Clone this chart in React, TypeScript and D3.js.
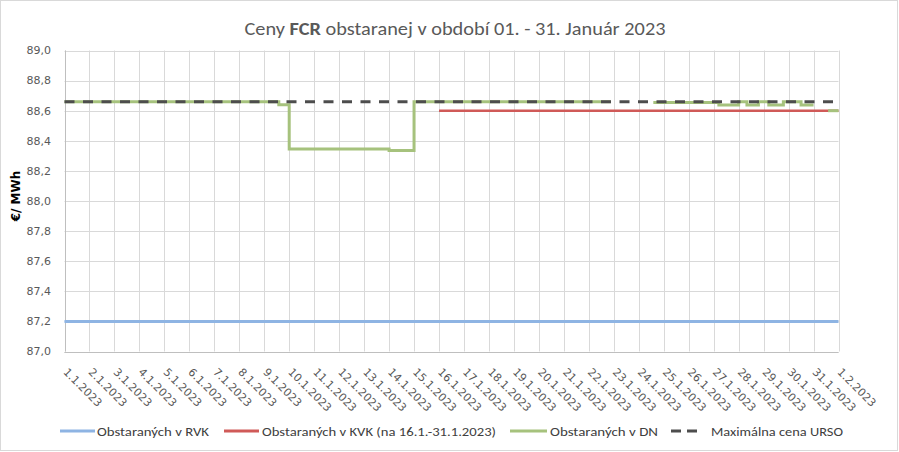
import React, { useEffect, useRef } from "react";
import * as d3 from "d3";

// ---- data ----
const yTicks = [87.0, 87.2, 87.4, 87.6, 87.8, 88.0, 88.2, 88.4, 88.6, 88.8, 89.0];
const xTickDates = [
  "2023-01-01","2023-01-02","2023-01-03","2023-01-04","2023-01-05","2023-01-06","2023-01-07","2023-01-08",
  "2023-01-09","2023-01-10","2023-01-11","2023-01-12","2023-01-13","2023-01-14","2023-01-15","2023-01-16",
  "2023-01-17","2023-01-18","2023-01-19","2023-01-20","2023-01-21","2023-01-22","2023-01-23","2023-01-24",
  "2023-01-25","2023-01-26","2023-01-27","2023-01-28","2023-01-29","2023-01-30","2023-01-31","2023-02-01",
];
// step series: [start time, value]; value null = no data
const rvkSteps: [string, number | null][] = [
  ["2023-01-01T00:00", 87.2],
  ["2023-02-01T00:00", 87.2],
];
const kvkSteps: [string, number | null][] = [
  ["2023-01-16T00:00", 88.6],
  ["2023-02-01T00:00", 88.6],
];
const dnSteps: [string, number | null][] = [
  ["2023-01-01T00:00", 88.66],
  ["2023-01-09T14:00", 88.64],
  ["2023-01-10T00:00", 88.345],
  ["2023-01-14T00:00", 88.335],
  ["2023-01-15T00:00", 88.66],
  ["2023-01-22T21:00", null],
  ["2023-01-24T14:00", 88.654],
  ["2023-01-27T05:00", 88.638],
  ["2023-01-28T00:00", 88.66],
  ["2023-01-28T08:00", 88.638],
  ["2023-01-28T19:00", 88.66],
  ["2023-01-29T05:00", 88.638],
  ["2023-01-29T19:00", 88.66],
  ["2023-01-30T12:00", 88.638],
  ["2023-01-31T00:00", null],
  ["2023-01-31T14:00", 88.6],
  ["2023-02-01T00:00", 88.6],
];
const ursoSteps: [string, number | null][] = [
  ["2023-01-01T00:00", 88.66],
  ["2023-02-01T00:00", 88.66],
];
const legendLabels = [
  "Obstaraných v RVK",
  "Obstaraných v KVK (na 16.1.-31.1.2023)",
  "Obstaraných v DN",
  "Maximálna cena URSO",
];

const W = 899;
const H = 452;
const narrow = "Carlito, 'Liberation Sans Narrow', 'Liberation Sans', Arial, sans-serif";

export default function App() {
  const ref = useRef<SVGSVGElement>(null);

  useEffect(() => {
    document.body.style.margin = "0";
    const svg = d3.select(ref.current);
    svg.selectAll("*").remove();

    const parse = d3.timeParse("%Y-%m-%dT%H:%M");
    const parseD = d3.timeParse("%Y-%m-%d");
    const dates = xTickDates.map((d) => parseD(d) as Date);

    const x = d3.scaleTime().domain([dates[0], dates[dates.length - 1]]).range([64.5, 838.5]);
    const y = d3.scaleLinear().domain([87, 89]).range([351.5, 50.5]);

    svg.append("rect").attr("x", 0.5).attr("y", 0.5).attr("width", 897).attr("height", 450)
      .attr("fill", "#fff").attr("stroke", "#D9D9D9");

    // grid
    const g = svg.append("g");
    g.selectAll("line.h").data(yTicks).join("line")
      .attr("x1", x.range()[0]).attr("x2", x.range()[1])
      .attr("y1", (d) => Math.round(y(d)) + 0.5).attr("y2", (d) => Math.round(y(d)) + 0.5)
      .attr("stroke", "#D9D9D9").attr("stroke-width", 1);
    g.selectAll("line.v").data(dates).join("line")
      .attr("x1", (d) => Math.round(x(d)) + 0.5).attr("x2", (d) => Math.round(x(d)) + 0.5)
      .attr("y1", y.range()[1]).attr("y2", y.range()[0])
      .attr("stroke", "#D9D9D9").attr("stroke-width", 1);
    // axes lines
    g.append("line").attr("x1", Math.round(x.range()[0]) + 0.5).attr("x2", Math.round(x.range()[0]) + 0.5)
      .attr("y1", y.range()[1]).attr("y2", y.range()[0]).attr("stroke", "#BFBFBF");
    g.append("line").attr("x1", x.range()[0]).attr("x2", x.range()[1])
      .attr("y1", Math.round(y(87)) + 0.5).attr("y2", Math.round(y(87)) + 0.5).attr("stroke", "#BFBFBF");

    // y labels
    const fmt = (v: number) => v.toFixed(1).replace(".", ",");
    svg.append("g").selectAll("text").data(yTicks).join("text")
      .attr("x", 51).attr("y", (d) => y(d)).attr("dy", "0.35em")
      .attr("text-anchor", "end").attr("font-family", "'DejaVu Sans', sans-serif")
      .attr("font-size", 11).attr("fill", "#595959").text(fmt);

    // x labels
    const xf = d3.timeFormat("%-d.%-m.%Y");
    svg.append("g").selectAll("text").data(dates).join("text")
      .attr("transform", (d) => `translate(${x(d) + 1},370) rotate(45)`)
      .attr("dy", "0.35em").attr("text-anchor", "start")
      .attr("font-family", "'DejaVu Sans', sans-serif").attr("font-size", 11)
      .attr("fill", "#595959").text((d) => xf(d));

    // y title
    svg.append("text").attr("transform", `translate(20,196) rotate(-90)`)
      .attr("text-anchor", "middle").attr("font-family", "'DejaVu Sans', sans-serif")
      .attr("font-weight", "bold").attr("font-size", 12).attr("fill", "#000").text("€/ MWh");

    // title
    const t = svg.append("text").attr("x", 455).attr("y", 35).attr("text-anchor", "middle")
      .attr("font-family", narrow).attr("font-size", 18).attr("fill", "#595959")
      .attr("textLength", 421).attr("lengthAdjust", "spacingAndGlyphs");
    t.append("tspan").text("Ceny ");
    t.append("tspan").attr("font-weight", "bold").text("FCR");
    t.append("tspan").text(" obstaranej v období 01. - 31. Január 2023");

    const line = d3.line<[Date, number | null]>()
      .defined((d) => d[1] !== null)
      .x((d) => x(d[0]))
      .y((d) => y(d[1] as number))
      .curve(d3.curveStepAfter);

    const toPts = (s: [string, number | null][]) => {
      const pts: [Date, number | null][] = s.map(([t, v]) => [parse(t) as Date, v]);
      const segs: [Date, number | null][][] = [];
      let cur: [Date, number | null][] = [];
      for (let i = 0; i < pts.length; i++) {
        const [d, v] = pts[i];
        if (v === null) {
          if (cur.length) { cur.push([d, cur[cur.length - 1][1]]); segs.push(cur); }
          cur = [];
        } else {
          if (cur.length) cur.push([d, v]);
          else cur = [[d, v]];
        }
      }
      if (cur.length) segs.push(cur);
      return segs;
    };

    const draw = (s: [string, number | null][], color: string, width: number, dash?: string) => {
      toPts(s).forEach((seg) => {
        svg.append("path").attr("d", line(seg)).attr("fill", "none").attr("stroke", color)
          .attr("stroke-width", width).attr("stroke-dasharray", dash || null);
      });
    };
    draw(rvkSteps, "#8EB4E3", 3);
    draw(kvkSteps, "#D05A58", 2.5);
    draw(dnSteps, "#A6C27D", 3);
    draw(ursoSteps, "#4D4D4D", 3, "10,8.5");

    // legend
    const items = [
      { lx: 60, lw: 35, tx: 97, tw: 112, color: "#8EB4E3", dash: null },
      { lx: 224, lw: 35, tx: 262, tw: 234, color: "#D05A58", dash: null },
      { lx: 510, lw: 37, tx: 550, tw: 108, color: "#A6C27D", dash: null },
      { lx: 671, lw: 28, tx: 711, tw: 132, color: "#4D4D4D", dash: "10,6" },
    ];
    const lg = svg.append("g");
    items.forEach((it, i) => {
      lg.append("line").attr("x1", it.lx).attr("x2", it.lx + it.lw).attr("y1", 431).attr("y2", 431)
        .attr("stroke", it.color).attr("stroke-width", 3).attr("stroke-dasharray", it.dash);
      lg.append("text").attr("x", it.tx).attr("y", 431).attr("dy", "0.35em")
        .attr("font-family", narrow).attr("font-size", 13).attr("fill", "#404040")
        .attr("textLength", it.tw).attr("lengthAdjust", "spacingAndGlyphs").text(legendLabels[i]);
    });
  }, []);

  return (
    <svg ref={ref} width={W} height={H} style={{ display: "block", position: "absolute", left: 0, top: 0 }} />
  );
}
